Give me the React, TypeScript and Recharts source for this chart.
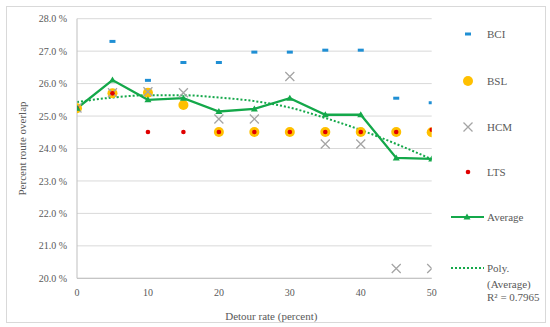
import React from "react";
import {
  ComposedChart,
  Line,
  Scatter,
  XAxis,
  YAxis,
  CartesianGrid,
  Label,
} from "recharts";

// detour rate (percent)
const detour = [0, 5, 10, 15, 20, 25, 30, 35, 40, 45, 50];

// percent route overlap per method
const bci = [25.25, 27.3, 26.1, 26.65, 26.65, 26.97, 26.97, 27.03, 27.03, 25.55, 25.41];
const bsl = [25.24, 25.7, 25.72, 25.34, 24.51, 24.51, 24.51, 24.51, 24.51, 24.51, 24.5];
const hcm = [25.25, 25.72, 25.75, 25.72, 24.91, 24.91, 26.22, 24.14, 24.14, 20.3, 20.3];
const lts = [25.24, 25.7, 24.51, 24.51, 24.51, 24.51, 24.51, 24.51, 24.51, 24.51, 24.58];
const average = [25.24, 26.11, 25.5, 25.55, 25.14, 25.22, 25.55, 25.04, 25.04, 23.71, 23.68];
// poly. trendline
const trend = [25.43, 25.57, 25.64, 25.64, 25.57, 25.46, 25.26, 24.94, 24.57, 24.14, 23.67];

const yTicks = [20, 21, 22, 23, 24, 25, 26, 27, 28];
const xTicks = [0, 10, 20, 30, 40, 50];

const toPoints = (vals: number[]) => detour.map((x, i) => ({ x, y: vals[i] }));

const BLUE = "#1f8fd4";
const ORANGE = "#ffc000";
const GRAY = "#a5a5a5";
const RED = "#e00000";
const GREEN = "#14a84a";
const TEXT = "#595959";
const FONT = "'Liberation Serif', 'DejaVu Serif', serif";

const Dash = (p: any) => (
  <rect x={p.cx - 3} y={p.cy - 1.5} width={6} height={3} fill={BLUE} />
);
const Disc = (p: any) => <circle cx={p.cx} cy={p.cy} r={5} fill={ORANGE} />;
const Cross = (p: any) => (
  <path
    d={`M${p.cx - 4.5},${p.cy - 4.5}L${p.cx + 4.5},${p.cy + 4.5}M${p.cx + 4.5},${p.cy - 4.5}L${p.cx - 4.5},${p.cy + 4.5}`}
    stroke={GRAY}
    strokeWidth={1.3}
    fill="none"
  />
);
const Dot = (p: any) => <circle cx={p.cx} cy={p.cy} r={2.3} fill={RED} />;
const Tri = (p: any) => (
  <polygon
    key={`tri-${p.index}`}
    points={`${p.cx},${p.cy - 3.5} ${p.cx + 3.5},${p.cy + 2.5} ${p.cx - 3.5},${p.cy + 2.5}`}
    fill={GREEN}
  />
);

function LegendBox() {
  const row = (top: number, marker: React.ReactNode, text: React.ReactNode) => (
    <div style={{ position: "absolute", left: 0, top: top - 7, height: 14, width: 100 }}>
      <svg width={36} height={14} style={{ position: "absolute", left: 0, top: 0 }}>
        {marker}
      </svg>
      <div style={{ position: "absolute", left: 36, top: 0, lineHeight: "14px", whiteSpace: "nowrap" }}>
        {text}
      </div>
    </div>
  );
  return (
    <div
      style={{
        position: "absolute",
        left: 451,
        top: 0,
        width: 99,
        height: 327,
        fontFamily: FONT,
        fontSize: 11,
        color: TEXT,
      }}
    >
      {row(34, <Dash cx={17} cy={7} />, "BCI")}
      {row(80.7, <Disc cx={17} cy={7} />, "BSL")}
      {row(126.7, <Cross cx={17} cy={7} />, "HCM")}
      {row(171.7, <Dot cx={17} cy={7} />, "LTS")}
      {row(
        216.7,
        <g>
          <line x1={0} y1={7} x2={33} y2={7} stroke={GREEN} strokeWidth={2.2} />
          <Tri cx={16} cy={7} />
        </g>,
        "Average"
      )}
      {row(
        268,
        <line x1={0} y1={7} x2={33} y2={7} stroke={GREEN} strokeWidth={2} strokeDasharray="2 2" />,
        "Poly."
      )}
      <div style={{ position: "absolute", left: 36, top: 277, lineHeight: "14px" }}>(Average)</div>
      <div style={{ position: "absolute", left: 36, top: 290, lineHeight: "14px" }}>
        R² = 0.7965
      </div>
    </div>
  );
}

export default function App() {
  return (
    <div
      style={{
        position: "fixed",
        left: 0,
        top: 0,
        width: 550,
        height: 327,
        background: "#fff",
        fontFamily: FONT,
      }}
    >
      <div
        style={{
          position: "absolute",
          left: 6,
          top: 6,
          width: 538,
          height: 315,
          border: "1px solid #d9d9d9",
        }}
      />
      <ComposedChart
        width={550}
        height={327}
        margin={{ top: 18.7, right: 118.3, left: 0, bottom: 18.7 }}
        style={{ position: "absolute", left: 0, top: 0, fontFamily: FONT }}
      >
        <CartesianGrid vertical={false} stroke="#d9d9d9" />
        <XAxis
          type="number"
          dataKey="x"
          domain={[0, 50]}
          ticks={xTicks}
          allowDataOverflow
          height={30}
          tickLine={false}
          tickSize={6}
          tickMargin={5}
          axisLine={{ stroke: "#bfbfbf" }}
          tick={{ fill: TEXT, fontSize: 10, fontFamily: FONT }}
        >
          <Label
            value="Detour rate (percent)"
            position="insideBottom"
            offset={-12}
            dx={17}
            fill={TEXT}
            fontSize={11}
            fontFamily={FONT}
          />
        </XAxis>
        <YAxis
          type="number"
          domain={[20, 28]}
          ticks={yTicks}
          allowDataOverflow
          width={77}
          tickLine={false}
          tickSize={6}
          tickMargin={4}
          axisLine={{ stroke: "#bfbfbf" }}
          tick={{ fill: TEXT, fontSize: 10, fontFamily: FONT }}
          tickFormatter={(v: number) => `${v.toFixed(1)} %`}
        >
          <Label
            value="Percent route overlap"
            angle={-90}
            position="insideLeft"
            offset={22}
            fill={TEXT}
            fontSize={11}
            fontFamily={FONT}
            style={{ textAnchor: "middle" }}
          />
        </YAxis>
        <Line
          data={toPoints(trend)}
          dataKey="y"
          type="monotone"
          stroke={GREEN}
          strokeWidth={2}
          strokeDasharray="2 2"
          dot={false}
          isAnimationActive={false}
        />
        <Scatter data={toPoints(bci)} dataKey="y" shape={Dash} isAnimationActive={false} />
        <Scatter data={toPoints(bsl)} dataKey="y" shape={Disc} isAnimationActive={false} />
        <Scatter data={toPoints(hcm)} dataKey="y" shape={Cross} isAnimationActive={false} />
        <Scatter data={toPoints(lts)} dataKey="y" shape={Dot} isAnimationActive={false} />
        <Line
          data={toPoints(average)}
          dataKey="y"
          type="linear"
          stroke={GREEN}
          strokeWidth={2.3}
          dot={Tri}
          isAnimationActive={false}
        />
      </ComposedChart>
      <LegendBox />
    </div>
  );
}
